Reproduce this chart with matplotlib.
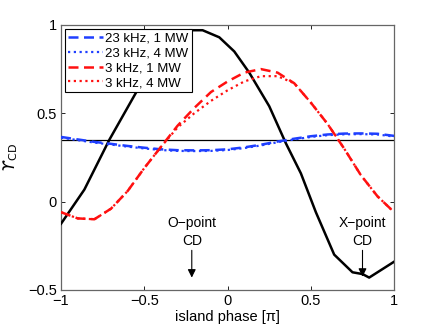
import matplotlib
matplotlib.use("Agg")
import matplotlib.pyplot as plt
import numpy as np

plt.rcParams['font.family'] = ['Liberation Sans', 'DejaVu Sans']
plt.rcParams['mathtext.fontset'] = 'dejavusans'

# Black curve (coarse samples)
black_x = [-1.0, -0.86, -0.71, -0.53, -0.23, -0.15, -0.05, 0.04, 0.13, 0.25, 0.35, 0.44, 0.53, 0.64, 0.75, 0.81, 0.85, 1.0]
black_y = [-0.125, 0.068, 0.35, 0.65, 0.97, 0.97, 0.93, 0.85, 0.73, 0.54, 0.33, 0.16, -0.06, -0.30, -0.40, -0.41, -0.43, -0.34]

hline_y = 0.347

phase = [-1.0, -0.9, -0.8, -0.7, -0.6, -0.5, -0.4, -0.3, -0.2, -0.1, 0.0, 0.1, 0.2, 0.3, 0.4, 0.5, 0.6, 0.7, 0.8, 0.9, 1.0]
blue_1mw = [0.366, 0.352, 0.338, 0.327, 0.315, 0.305, 0.296, 0.291, 0.290, 0.291, 0.296, 0.307, 0.322, 0.340, 0.356, 0.370, 0.380, 0.385, 0.386, 0.384, 0.372]
blue_4mw = [0.362, 0.348, 0.334, 0.323, 0.311, 0.301, 0.292, 0.287, 0.286, 0.287, 0.292, 0.303, 0.318, 0.336, 0.352, 0.366, 0.376, 0.381, 0.382, 0.380, 0.368]
red_1mw = [-0.06, -0.095, -0.10, -0.04, 0.06, 0.19, 0.31, 0.43, 0.53, 0.62, 0.68, 0.73, 0.75, 0.73, 0.67, 0.56, 0.44, 0.30, 0.15, 0.03, -0.06]
red_4mw = [-0.06, -0.095, -0.10, -0.04, 0.06, 0.19, 0.31, 0.42, 0.50, 0.57, 0.63, 0.68, 0.71, 0.71, 0.67, 0.56, 0.44, 0.30, 0.15, 0.03, -0.06]

labels = ['23 kHz, 1 MW', '23 kHz, 4 MW', '3 kHz, 1 MW', '3 kHz, 4 MW']
xticks = [-1, -0.5, 0, 0.5, 1]
yticks = [-0.5, 0, 0.5, 1]

fig = plt.figure(figsize=(4.36, 3.28), dpi=100)
ax = fig.add_axes([0.140, 0.116, 0.764, 0.808])

ax.plot(black_x, black_y, color='black', lw=1.8, zorder=3)
ax.axhline(hline_y, color='black', lw=0.9, zorder=2)
l1, = ax.plot(phase, blue_1mw, color='#1f3fff', lw=1.8, dashes=(4, 2.2), zorder=4)
l2, = ax.plot(phase, blue_4mw, color='#1f3fff', lw=1.6, dashes=(1, 1.6), zorder=4)
l3, = ax.plot(phase, red_1mw, color='#ff1010', lw=1.8, dashes=(4, 2.2), zorder=4)
l4, = ax.plot(phase, red_4mw, color='#ff1010', lw=1.6, dashes=(1, 1.6), zorder=4)

leg = ax.legend([l1, l2, l3, l4], labels, loc='upper left', bbox_to_anchor=(0.0, 1.0),
                fontsize=9.5, frameon=True, fancybox=False, edgecolor='black',
                framealpha=1, borderpad=0.25, labelspacing=0.2, handlelength=2.6,
                handletextpad=0.2, borderaxespad=0.3)
leg.get_frame().set_linewidth(0.8)
leg.set_zorder(10)

ax.set_xlim(-1, 1)
ax.set_ylim(-0.5, 1)
ax.set_xticks(xticks)
ax.set_xticklabels(['\u22121', '\u22120.5', '0', '0.5', '1'])
ax.set_yticks(yticks)
ax.set_yticklabels(['\u22120.5', '0', '0.5', '1'])
ax.tick_params(direction='in', top=True, right=True, length=3, width=0.6,
               labelsize=10.5, colors='black', pad=3)
for s in ax.spines.values():
    s.set_color('#666666')
    s.set_linewidth(0.9)

ax.set_xlabel('island phase [\u03c0]', fontsize=10.5, labelpad=1)
ax.set_ylabel('$\u03d2_{\\mathrm{CD}}$', fontsize=11.5, labelpad=6)

ax.annotate('O\u2212point\nCD', xy=(-0.215, -0.43), xytext=(-0.215, -0.26),
            ha='center', va='bottom', fontsize=10, linespacing=1.3,
            arrowprops=dict(arrowstyle='-|>', color='black', lw=0.8,
                            mutation_scale=12, shrinkA=0, shrinkB=0))
ax.annotate('X\u2212point\nCD', xy=(0.81, -0.425), xytext=(0.81, -0.26),
            ha='center', va='bottom', fontsize=10, linespacing=1.3,
            arrowprops=dict(arrowstyle='-|>', color='black', lw=0.8,
                            mutation_scale=12, shrinkA=0, shrinkB=0))

fig.savefig('out.png', dpi=100)
